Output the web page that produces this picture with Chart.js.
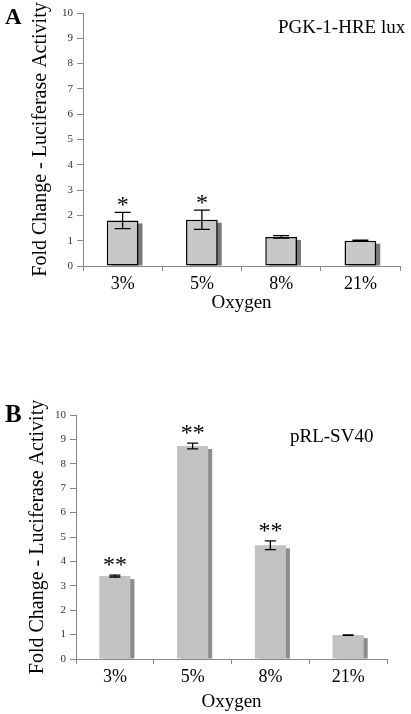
<!DOCTYPE html>
<html>
<head>
<meta charset="utf-8">
<script src="https://cdn.jsdelivr.net/npm/chart.js@4/dist/chart.umd.min.js"></script>
<style>
    body { margin: 0; background: #fff; width: 411px; height: 714px; position: relative; overflow: hidden; font-family: "Liberation Serif", serif; }
    .box { position: absolute; left: 0; width: 411px; }
    .tag { position: absolute; line-height: 1; color: #000; white-space: nowrap; }
    .panel { font-weight: bold; }
</style>
</head>
<body>
<div class="box" style="top:0;height:320px"><canvas id="chartA"></canvas></div>
<div class="box" style="top:384px;height:330px"><canvas id="chartB"></canvas></div>
<div class="tag panel" style="left:5px;top:5px;font-size:23px">A</div>
<div class="tag" style="left:278px;top:17px;font-size:19px">PGK-1-HRE lux</div>
<div class="tag panel" style="left:5px;top:401px;font-size:25px">B</div>
<div class="tag" style="left:290px;top:426px;font-size:19px">pRL-SV40</div>
<script>
    // data
    const oxygen = ['3%', '5%', '8%', '21%'];
    const yTicks = [0, 1, 2, 3, 4, 5, 6, 7, 8, 9, 10];

    const pgkMeans = [1.8, 1.83, 1.15, 1.0];
    const pgkErrors = [0.32, 0.38, 0.05, 0.02];
    const pgkMarks = ['*', '*', '', ''];

    const svMeans = [3.4, 8.73, 4.66, 0.98];
    const svErrors = [0.04, 0.12, 0.18, 0.01];
    const svMarks = ['**', '**', '**', ''];

    const serif = '"Liberation Serif", "Times New Roman", serif';

    // shadow behind each bar, error bars and significance stars on top
    const barExtras = {
        id: 'barExtras',
        beforeDatasetsDraw(chart, args, opts) {
            const ctx = chart.ctx;
            const meta = chart.getDatasetMeta(0);
            ctx.save();
            ctx.fillStyle = opts.shadow;
            meta.data.forEach(bar => {
                const w = bar.width;
                ctx.fillRect(bar.x - w / 2 + opts.dx, bar.y + opts.dy, w, bar.base - bar.y - opts.dy);
            });
            ctx.restore();
        },
        afterDatasetsDraw(chart, args, opts) {
            const ctx = chart.ctx;
            const y = chart.scales.y;
            const meta = chart.getDatasetMeta(0);
            const values = chart.data.datasets[0].data;
            ctx.save();
            ctx.strokeStyle = '#000';
            ctx.lineWidth = 1.3;
            meta.data.forEach((bar, i) => {
                const top = y.getPixelForValue(values[i] + opts.errors[i]);
                const bottom = y.getPixelForValue(values[i] - opts.errors[i]);
                const half = opts.cap / 2;
                ctx.beginPath();
                ctx.moveTo(bar.x, top);
                ctx.lineTo(bar.x, bottom);
                ctx.moveTo(bar.x - half, top);
                ctx.lineTo(bar.x + half, top);
                ctx.moveTo(bar.x - half, bottom);
                ctx.lineTo(bar.x + half, bottom);
                ctx.stroke();

                if (opts.marks[i]) {
                    ctx.fillStyle = '#000';
                    ctx.font = opts.markSize + 'px ' + serif;
                    ctx.textAlign = 'center';
                    ctx.textBaseline = 'alphabetic';
                    ctx.fillText(opts.marks[i], bar.x, top - opts.markGap);
                }
            });
            ctx.restore();
        }
    };

    function makePanel(canvasId, means, errors, marks, look) {
        const ctx = document.getElementById(canvasId).getContext('2d');
        return new Chart(ctx, {
            type: 'bar',
            data: {
                labels: oxygen,
                datasets: [{
                    data: means,
                    backgroundColor: look.fill,
                    borderColor: '#000',
                    borderWidth: look.border,
                    borderSkipped: false,
                    categoryPercentage: 1,
                    barPercentage: 0.4
                }]
            },
            plugins: [barExtras],
            options: {
                responsive: true,
                maintainAspectRatio: false,
                animation: false,
                layout: { padding: { top: look.top, right: look.right, left: 0, bottom: 0 } },
                plugins: {
                    legend: { display: false },
                    tooltip: { enabled: false },
                    barExtras: {
                        errors: errors,
                        marks: marks,
                        cap: look.cap,
                        shadow: look.shadow,
                        dx: 4,
                        dy: 3,
                        markSize: 24,
                        markGap: look.markGap
                    }
                },
                scales: {
                    x: {
                        afterFit: scale => { scale.height = look.xHeight; },
                        grid: { drawOnChartArea: false, drawTicks: true, tickLength: 5, color: '#888' },
                        border: { display: true, color: '#888' },
                        ticks: { color: '#000', padding: 2, font: { family: serif, size: 18 } },
                        title: {
                            display: true,
                            text: 'Oxygen',
                            color: '#000',
                            font: { family: serif, size: 19 },
                            padding: { top: 0, bottom: look.xTitlePad }
                        }
                    },
                    y: {
                        min: 0,
                        max: 10,
                        afterFit: scale => { scale.width = look.yWidth; },
                        afterBuildTicks: scale => { scale.ticks = yTicks.map(v => ({ value: v })); },
                        grid: { drawOnChartArea: false, drawTicks: true, tickLength: 6, color: '#888' },
                        border: { display: true, color: '#888' },
                        ticks: { color: '#333', padding: 4, font: { family: serif, size: 11 } },
                        title: {
                            display: true,
                            text: 'Fold Change - Luciferase Activity',
                            color: '#000',
                            font: { family: serif, size: 20 },
                            padding: { top: look.yTitlePad, bottom: 0 }
                        }
                    }
                }
            }
        });
    }

    makePanel('chartA', pgkMeans, pgkErrors, pgkMarks, {
        fill: '#c8c8c8', border: 1.5, shadow: '#7a7a7a', cap: 16, markGap: 0,
        top: 13, right: 11, yWidth: 83, xHeight: 54, xTitlePad: 6, yTitlePad: 29
    });

    makePanel('chartB', svMeans, svErrors, svMarks, {
        fill: '#c2c2c2', border: 0, shadow: '#8c8c8c', cap: 11, markGap: 3,
        top: 31, right: 24, yWidth: 76, xHeight: 55, xTitlePad: 1, yTitlePad: 26
    });
</script>
</body>
</html>
